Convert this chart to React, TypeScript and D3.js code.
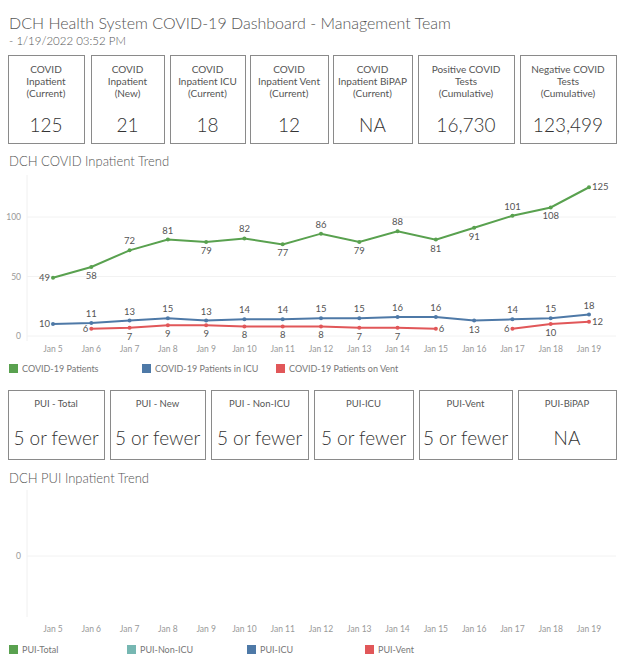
import * as d3 from "d3";
import { useEffect } from "react";

const dates = ["Jan 5", "Jan 6", "Jan 7", "Jan 8", "Jan 9", "Jan 10", "Jan 11", "Jan 12", "Jan 13", "Jan 14", "Jan 15", "Jan 16", "Jan 17", "Jan 18", "Jan 19"];
const covidPatients = [49, 58, 72, 81, 79, 82, 77, 86, 79, 88, 81, 91, 101, 108, 125];
const covidIcu = [10, 11, 13, 15, 13, 14, 14, 15, 15, 16, 16, 13, 14, 15, 18];
const covidVent: (number | null)[] = [null, 6, 7, 9, 9, 8, 8, 8, 7, 7, 6, null, 6, 10, 12];

// where each data label sits relative to its point
const patientsLabelPos = ["l", "b", "t", "t", "b", "t", "b", "t", "b", "t", "b", "b", "t", "b", "r"];
const icuLabelPos = ["l", "t", "t", "t", "t", "t", "t", "t", "t", "t", "t", "b", "t", "t", "t"];
const ventLabelPos = ["", "l", "b", "b", "b", "b", "b", "b", "b", "b", "r", "", "l", "b", "r"];

const kpiLabels = [
  ["COVID", "Inpatient", "(Current)"],
  ["COVID", "Inpatient", "(New)"],
  ["COVID", "Inpatient ICU", "(Current)"],
  ["COVID", "Inpatient Vent", "(Current)"],
  ["COVID", "Inpatient BiPAP", "(Current)"],
  ["Positive COVID", "Tests", "(Cumulative)"],
  ["Negative COVID", "Tests", "(Cumulative)"],
];
const kpiValues = ["125", "21", "18", "12", "NA", "16,730", "123,499"];

const puiLabels = ["PUI - Total", "PUI - New", "PUI - Non-ICU", "PUI-ICU", "PUI-Vent", "PUI-BiPAP"];
const puiValues = ["5 or fewer", "5 or fewer", "5 or fewer", "5 or fewer", "5 or fewer", "NA"];

const covidLegend = ["COVID-19 Patients", "COVID-19 Patients in ICU", "COVID-19 Patients on Vent"];
const puiLegend = ["PUI-Total", "PUI-Non-ICU", "PUI-ICU", "PUI-Vent"];

const GREEN = "#59a14f";
const BLUE = "#4e79a7";
const RED = "#e15759";
const TEAL = "#76b7b2";
const FONT = "Lato, 'Open Sans', sans-serif";

// box edges [left, right]
const kpiBoxes = [[8, 84], [91, 164], [170, 245], [250, 328], [333, 412], [418, 514], [520, 616]];
const puiBoxes = [[8, 104], [110, 205], [211, 308], [314, 413], [419, 512], [518, 616]];

export default function App() {
  useEffect(() => {
    document.body.style.margin = "0";
  }, []);

  const x = d3.scalePoint<string>().domain(dates).range([53, 589]);
  const y = d3.scaleLinear().domain([0, 100]).range([336, 217]);
  const y2 = d3.scaleLinear().domain([-1, 1]).range([617, 495]);

  const line = d3
    .line<number | null>()
    .defined((d) => d != null)
    .x((_, i) => x(dates[i])!)
    .y((d) => y(d as number));

  const series = [
    { values: covidPatients as (number | null)[], color: GREEN, pos: patientsLabelPos },
    { values: covidIcu as (number | null)[], color: BLUE, pos: icuLabelPos },
    { values: covidVent, color: RED, pos: ventLabelPos },
  ];

  const labelProps = (p: string, px: number, py: number) => {
    if (p === "t") return { x: px, y: py - 6, anchor: "middle" };
    if (p === "b") return { x: px, y: py + 12, anchor: "middle" };
    if (p === "l") return { x: px - 3, y: py + 3, anchor: "end" };
    return { x: px + 3, y: py + 3, anchor: "start" };
  };

  return (
    <svg width={624} height={663} style={{ display: "block", background: "#fff" }} fontFamily={FONT}>
      <text x={9} y={29} fontSize={16} fill="#555" fontWeight={300}>
        DCH Health System COVID-19 Dashboard - Management Team
      </text>
      <text x={9} y={45} fontSize={11.5} fill="#555" fontWeight={300}>
        - 1/19/2022 03:52 PM
      </text>

      {kpiBoxes.map(([l, r], i) => (
        <g key={i}>
          <rect x={l + 0.5} y={55.5} width={r - l} height={88} fill="none" stroke="#8a8a8a" />
          {kpiLabels[i].map((t, j) => (
            <text key={j} x={(l + r) / 2} y={73 + j * 12} fontSize={10} fill="#555" textAnchor="middle">
              {t}
            </text>
          ))}
          <text x={(l + r) / 2} y={132} fontSize={19} fill="#333" textAnchor="middle" fontWeight={300}>
            {kpiValues[i]}
          </text>
        </g>
      ))}

      {/* COVID inpatient trend */}
      <text x={9} y={166} fontSize={13} fill="#555" fontWeight={300}>
        DCH COVID Inpatient Trend
      </text>
      <line x1={27} x2={27} y1={175} y2={341} stroke="#f0f0f0" />
      {[0, 50, 100].map((t) => (
        <g key={t}>
          <line x1={27} x2={616} y1={y(t)} y2={y(t)} stroke="#f2f2f2" />
          <text x={21} y={y(t) + 3} fontSize={8.5} fill="#999" textAnchor="end">
            {t}
          </text>
        </g>
      ))}
      {dates.map((d) => (
        <text key={d} x={x(d)} y={352} fontSize={8.5} fill="#999" textAnchor="middle">
          {d}
        </text>
      ))}
      {series.map((s, si) => (
        <g key={si}>
          <path d={line(s.values) || ""} fill="none" stroke={s.color} strokeWidth={2} />
          {s.values.map((v, i) =>
            v == null ? null : (
              <circle key={i} cx={x(dates[i])} cy={y(v)} r={2} fill={s.color} />
            )
          )}
          {s.values.map((v, i) => {
            if (v == null) return null;
            const lp = labelProps(s.pos[i], x(dates[i])!, y(v));
            return (
              <text key={"l" + i} x={lp.x} y={lp.y} fontSize={9.5} fill="#555" textAnchor={lp.anchor}>
                {v}
              </text>
            );
          })}
        </g>
      ))}
      {covidLegend.map((t, i) => {
        const lx = [9, 142, 276][i];
        return (
          <g key={t}>
            <rect x={lx} y={364} width={9} height={9} fill={[GREEN, BLUE, RED][i]} />
            <text x={lx + 13} y={372} fontSize={9} fill="#777">
              {t}
            </text>
          </g>
        );
      })}

      {puiBoxes.map(([l, r], i) => (
        <g key={i}>
          <rect x={l + 0.5} y={390.5} width={r - l} height={69} fill="none" stroke="#8a8a8a" />
          <text x={(l + r) / 2} y={407} fontSize={9.5} fill="#555" textAnchor="middle">
            {puiLabels[i]}
          </text>
          <text x={(l + r) / 2} y={445} fontSize={19} fill="#333" textAnchor="middle" fontWeight={300}>
            {puiValues[i]}
          </text>
        </g>
      ))}

      {/* PUI inpatient trend */}
      <text x={9} y={483} fontSize={13} fill="#555" fontWeight={300}>
        DCH PUI Inpatient Trend
      </text>
      <line x1={27} x2={27} y1={490} y2={617} stroke="#f0f0f0" />
      <line x1={27} x2={616} y1={y2(0)} y2={y2(0)} stroke="#f2f2f2" />
      <text x={21} y={y2(0) + 3} fontSize={8.5} fill="#999" textAnchor="end">
        0
      </text>
      {dates.map((d) => (
        <text key={d} x={x(d)} y={632} fontSize={8.5} fill="#999" textAnchor="middle">
          {d}
        </text>
      ))}
      {puiLegend.map((t, i) => {
        const lx = [9, 127, 247, 365][i];
        return (
          <g key={t}>
            <rect x={lx} y={645} width={9} height={9} fill={[GREEN, TEAL, BLUE, RED][i]} />
            <text x={lx + 13} y={653} fontSize={9} fill="#777">
              {t}
            </text>
          </g>
        );
      })}
    </svg>
  );
}
